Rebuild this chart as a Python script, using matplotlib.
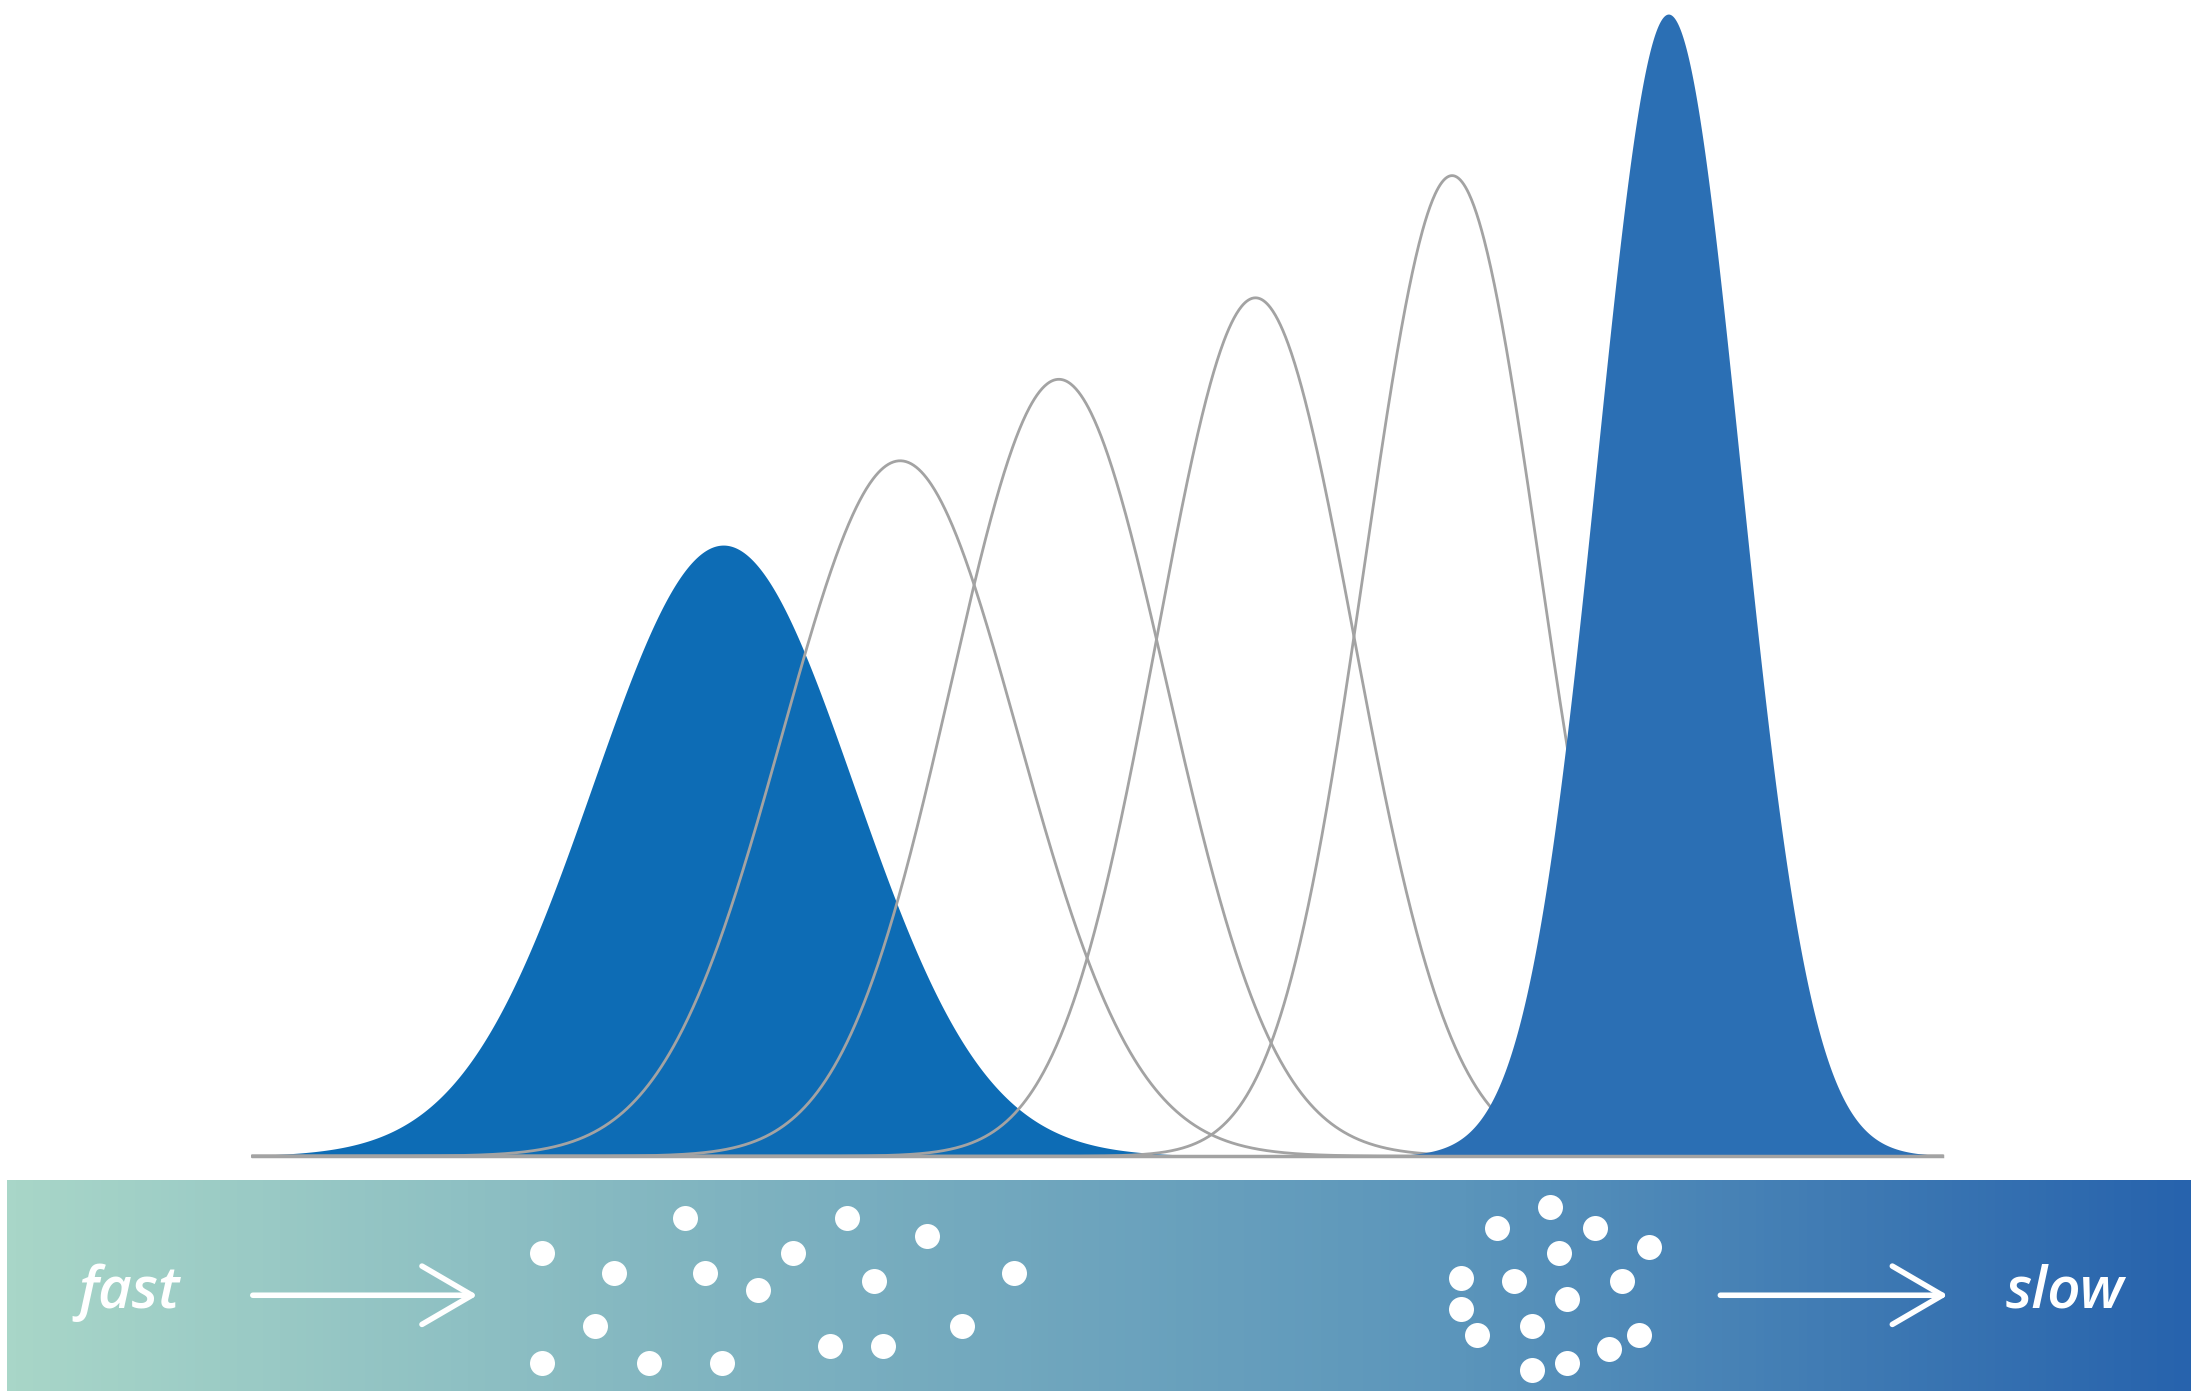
import numpy as np
import matplotlib
matplotlib.use("Agg")
import matplotlib.pyplot as plt
from matplotlib.colors import LinearSegmentedColormap

W, H = 1563, 993
base_y = 823
filled_centers = [515, 1188]
filled_peaks = [388, 10]
filled_sigmas = [93, 51]
filled_colors = ["#0d6cb5", "#2b6fb4"]
gray_centers = [641, 754, 894, 1034]
gray_peaks = [328, 270, 212, 125]
gray_sigmas = [84, 77, 70, 62]
left_dots = [(386,892),(437,906),(488,867),(502,906),(540,918),(565,892),(603,867),(622,912),
             (660,880),(722,906),(424,944),(386,970),(462,970),(514,970),(591,958),(629,958),(685,944)]
right_dots = [(1104,859),(1066,874),(1136,874),(1110,892),(1174,888),(1040,910),(1078,912),(1155,912),
              (1116,925),(1040,932),(1052,950),(1091,944),(1167,950),(1091,975),(1116,970),(1146,960)]

fig = plt.figure(figsize=(21.95, 13.95), dpi=100)
ax = fig.add_axes([0, 0, 1, 1])
ax.set_xlim(0, W); ax.set_ylim(H, 0); ax.axis("off")

x = np.linspace(180, 1383, 2000)
def curve(c, p, s):
    return base_y - (base_y - p) * np.exp(-0.5 * ((x - c) / s) ** 2)

ax.fill_between(x, base_y, curve(filled_centers[0], filled_peaks[0], filled_sigmas[0]),
                color=filled_colors[0], lw=0, zorder=1)
for c, p, s in zip(gray_centers, gray_peaks, gray_sigmas):
    ax.plot(x, curve(c, p, s), color="#a3a3a3", lw=2, zorder=2)
ax.fill_between(x, base_y, curve(filled_centers[1], filled_peaks[1], filled_sigmas[1]),
                color=filled_colors[1], lw=0, zorder=3)
ax.plot([180, 1383], [base_y, base_y], color="#a3a3a3", lw=2.5, zorder=4)

cmap = LinearSegmentedColormap.from_list("g", ["#a8d6c8", "#7fb3c0", "#5b95bb", "#2763ad"])
grad = np.linspace(0, 1, 512)[None, :]
ax.imshow(grad, cmap=cmap, extent=[5, 1560, 990, 840], aspect="auto", zorder=5)

for pts in (left_dots, right_dots):
    xs, ys = zip(*pts)
    ax.plot(xs, ys, "o", color="white", ms=18, mec="none", zorder=6)

for x0, x1 in [(180, 340), (1225, 1387)]:
    ax.annotate("", xy=(x1, 922), xytext=(x0, 922), zorder=6,
                arrowprops=dict(arrowstyle="->,head_length=0.6,head_width=0.35", color="white",
                                lw=4, mutation_scale=60, shrinkA=0, shrinkB=0))
for tx, s in [(92, "fast"), (1470, "slow")]:
    ax.text(tx, 920, s, color="white", fontsize=42, style="italic", fontweight="semibold",
            ha="center", va="center", family="Open Sans", zorder=7)
fig.savefig("out.png", dpi=100)
